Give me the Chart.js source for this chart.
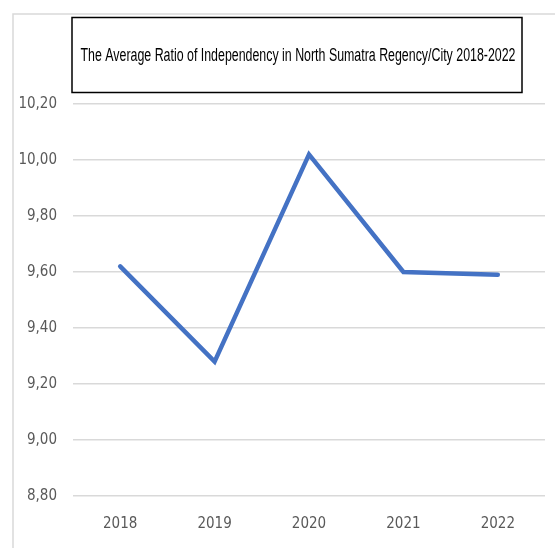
<!DOCTYPE html>
<html>
<head>
<meta charset="utf-8">
<script src="https://cdn.jsdelivr.net/npm/chart.js@4.4.1/dist/chart.umd.min.js"></script>
<style>
html,body{margin:0;padding:0;background:#fff;}
#wrap{width:555px;height:548px;position:relative;}
</style>
</head>
<body>
<div id="wrap"><canvas id="c" width="555" height="548"></canvas></div>
<script>
const titleText = "The Average Ratio of Independency in North Sumatra Regency/City 2018-2022";
const categories = ["2018", "2019", "2020", "2021", "2022"];
const ratioValues = [9.62, 9.28, 10.02, 9.60, 9.59];
const yMin = 8.8, yMax = 10.2, yStep = 0.2;

const FONT = "'DejaVu Sans', sans-serif";

const decor = {
  id: 'decor',
  beforeDraw(chart) {
    const ctx = chart.ctx;
    ctx.save();
    ctx.fillStyle = '#ffffff';
    ctx.fillRect(0, 0, chart.width, chart.height);
    ctx.strokeStyle = '#d9d9d9';
    ctx.lineWidth = 1.5;
    ctx.strokeRect(13, 14, 700, 700);
    ctx.restore();
  },
  afterDraw(chart) {
    const ctx = chart.ctx;
    ctx.save();
    ctx.strokeStyle = '#000000';
    ctx.lineWidth = 1.5;
    ctx.strokeRect(72, 17.5, 450, 75);
    ctx.fillStyle = '#000000';
    ctx.font = "18px 'Liberation Sans', sans-serif";
    ctx.textAlign = 'center';
    ctx.textBaseline = 'middle';
    const w = ctx.measureText(titleText).width;
    const sx = 435 / w;
    ctx.translate(298, 56);
    ctx.scale(sx, 1);
    ctx.fillText(titleText, 0, 0);
    ctx.restore();
  }
};

new Chart(document.getElementById('c'), {
  type: 'line',
  data: {
    labels: categories,
    datasets: [{
      data: ratioValues,
      borderColor: '#4472C4',
      backgroundColor: '#4472C4',
      borderWidth: 4.5,
      borderCapStyle: 'round',
      borderJoinStyle: 'miter',
      pointRadius: 0,
      tension: 0,
      fill: false
    }]
  },
  options: {
    responsive: false,
    animation: false,
    layout: { padding: { left: 13, top: 104, right: 10, bottom: 0 } },
    plugins: { legend: { display: false }, title: { display: false }, tooltip: { enabled: false } },
    scales: {
      x: {
        offset: true,
        grid: { display: false, drawTicks: false },
        border: { display: false },
        ticks: { color: '#595959', font: { family: FONT, size: 15, weight: 'condensed' }, padding: 19, maxRotation: 0 },
        afterFit(s) { s.height = 52; }
      },
      y: {
        min: yMin, max: yMax,
        grid: { color: '#d9d9d9', lineWidth: 1.5, drawTicks: false },
        border: { display: false },
        ticks: {
          stepSize: yStep,
          color: '#595959',
          font: { family: FONT, size: 15, weight: 'condensed' },
          padding: 16,
          callback: (v) => Number(v).toFixed(2).replace('.', ',')
        },
        afterFit(s) { s.width = 60; }
      }
    }
  },
  plugins: [decor]
});
</script>
</body>
</html>
